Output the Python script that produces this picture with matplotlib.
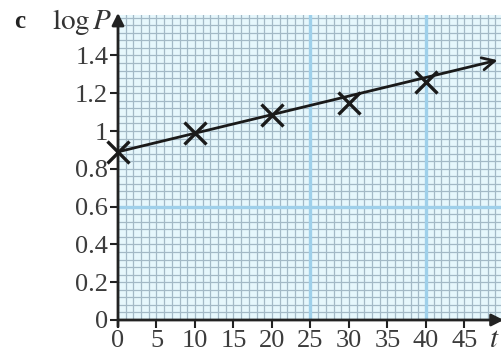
import numpy as np
import matplotlib.pyplot as plt
from matplotlib.ticker import MultipleLocator, FixedLocator

plt.rcParams['font.family'] = ['Liberation Serif', 'DejaVu Serif']
plt.rcParams['mathtext.fontset'] = 'stix'

# data
t_points = [0, 10, 20, 30, 40]
logp_points = [0.89, 0.99, 1.085, 1.15, 1.26]
line_t = [0, 49.3]
line_logp = [0.89, 1.375]

x_ticks = [0, 5, 10, 15, 20, 25, 30, 35, 40, 45]
y_ticks = [0, 0.2, 0.4, 0.6, 0.8, 1.0, 1.2, 1.4]
y_labels = ['0', '0.2', '0.4', '0.6', '0.8', '1', '1.2', '1.4']

fig = plt.figure(figsize=(5.01, 3.55), dpi=100)
ax = fig.add_axes([118 / 501, 1 - 320 / 355, 383 / 501, 305 / 355])
ax.set_xlim(0, 49.75)
ax.set_ylim(0, 1.614)
ax.set_facecolor('#e6f7fc')

for s in ax.spines.values():
    s.set_visible(False)

# graph paper
ax.xaxis.set_minor_locator(MultipleLocator(1))
ax.yaxis.set_minor_locator(MultipleLocator(0.04))
ax.grid(True, which='both', color='#a3b9c6', linewidth=0.9, zorder=0)
ax.set_axisbelow(True)
for xv in [25, 40]:
    ax.axvline(xv, color='#9fd0ea', linewidth=2.4, zorder=1)
ax.axhline(0.6, color='#9fd0ea', linewidth=2.4, zorder=1)

ax.xaxis.set_major_locator(FixedLocator(x_ticks))
ax.yaxis.set_major_locator(FixedLocator(y_ticks))
ax.set_yticklabels(y_labels)
ax.tick_params(which='minor', length=0)
ax.tick_params(which='major', length=6, width=1.5, color='#222222',
               labelsize=19, labelcolor='#3c3c3c', pad=1)

# axes with arrows
ax.annotate('', xy=(50.1, 0), xytext=(0, 0), xycoords='data',
            arrowprops=dict(arrowstyle='-|>', color='#222222', lw=2,
                            mutation_scale=18, shrinkA=0, shrinkB=0),
            annotation_clip=False, zorder=3)
ax.annotate('', xy=(0, 1.625), xytext=(0, -0.035), xycoords='data',
            arrowprops=dict(arrowstyle='-|>', color='#222222', lw=2,
                            mutation_scale=18, shrinkA=0, shrinkB=0),
            annotation_clip=False, zorder=3)

# fitted line with arrow
ax.annotate('', xy=(line_t[1], line_logp[1]), xytext=(line_t[0], line_logp[0]),
            arrowprops=dict(arrowstyle='->', color='#1a1a1a', lw=2,
                            mutation_scale=22, shrinkA=0, shrinkB=0),
            annotation_clip=False, zorder=4)
ax.plot(t_points, logp_points, linestyle='none', marker='x', markersize=16,
        markeredgewidth=2.4, color='#1a1a1a', zorder=5, clip_on=False)

fig.text(20 / 501, 1 - 22 / 355, 'c', fontsize=18, fontweight='bold',
         ha='center', va='center', color='#222222')
fig.text(112 / 501, 1 - 22 / 355, r'$\mathrm{log}\,P$', fontsize=21,
         ha='right', va='center', color='#333333')
fig.text(489 / 501, 1 - 340 / 355, r'$t$', fontsize=21,
         ha='left', va='center', color='#333333')

fig.savefig('out.png', dpi=100, facecolor='white')
